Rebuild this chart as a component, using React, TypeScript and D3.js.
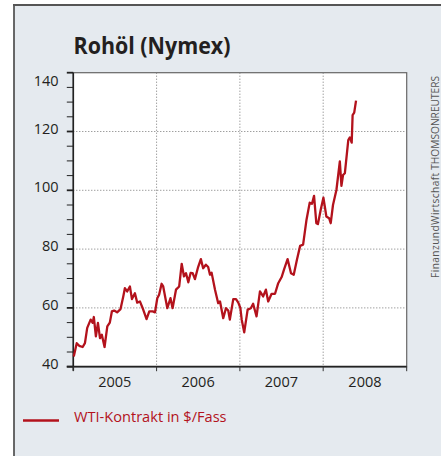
import React, { useEffect, useRef } from "react";
import { select, scaleTime, scaleLinear, line, range, timeParse, curveLinear } from "d3";

// WTI, Wochenwerte
const dates = [
  "2005-01-03", "2005-01-16", "2005-01-27", "2005-02-11", "2005-02-21", "2005-03-03", "2005-03-18", "2005-03-27",
  "2005-04-01", "2005-04-10", "2005-04-19", "2005-04-28", "2005-05-06", "2005-05-18", "2005-05-30", "2005-06-10",
  "2005-06-19", "2005-06-29", "2005-07-12", "2005-07-27", "2005-08-08", "2005-08-15", "2005-08-25", "2005-09-06",
  "2005-09-15", "2005-09-28", "2005-10-08", "2005-10-20", "2005-11-01", "2005-11-18", "2005-11-30", "2005-12-15",
  "2005-12-25", "2006-01-04", "2006-01-12", "2006-01-23", "2006-01-30", "2006-02-17", "2006-03-03", "2006-03-12",
  "2006-03-27", "2006-04-10", "2006-04-21", "2006-05-01", "2006-05-10", "2006-05-20", "2006-05-30", "2006-06-08",
  "2006-06-18", "2006-07-02", "2006-07-14", "2006-07-24", "2006-08-05", "2006-08-15", "2006-08-23", "2006-08-30",
  "2006-09-14", "2006-09-28", "2006-10-06", "2006-10-20", "2006-11-01", "2006-11-11", "2006-11-18", "2006-12-03",
  "2006-12-15", "2006-12-25", "2007-01-03", "2007-01-09", "2007-01-20", "2007-02-04", "2007-02-18", "2007-02-28",
  "2007-03-15", "2007-03-30", "2007-04-13", "2007-04-25", "2007-05-05", "2007-05-20", "2007-06-04", "2007-06-18",
  "2007-07-03", "2007-07-14", "2007-07-29", "2007-08-13", "2007-08-25", "2007-09-08", "2007-09-22", "2007-10-05",
  "2007-10-20", "2007-11-03", "2007-11-13", "2007-11-22", "2007-12-02", "2007-12-09", "2007-12-21", "2008-01-02",
  "2008-01-15", "2008-01-27", "2008-02-03", "2008-02-13", "2008-02-28", "2008-03-14", "2008-03-21", "2008-03-28",
  "2008-04-05", "2008-04-20", "2008-04-27", "2008-05-05", "2008-05-09", "2008-05-16", "2008-05-24",
];
const prices = [
  43.5, 48, 47.1, 46.7, 48, 53.2, 56, 54.9,
  56.9, 50.3, 54.9, 49.7, 50.9, 46.7, 53.7, 55,
  58.8, 59.1, 58.5, 59.6, 63.9, 66.7, 65.6, 67.3,
  63, 65, 61.8, 62.2, 59.9, 56.2, 58.8, 58.8,
  58.5, 63.3, 64.5, 68.2, 67.3, 59.9, 63.3, 59.9,
  66.2, 67.3, 75, 70.7, 71.8, 68.7, 71.9, 71.8,
  69.8, 73.9, 76.6, 73.5, 74.7, 73.9, 71.3, 72,
  66.2, 61.6, 62.2, 56.5, 59.9, 59.1, 56, 63,
  63, 61.8, 60, 56, 51.7, 59.4, 59.9, 61.4,
  57.1, 65.6, 63.9, 66.2, 62.2, 64.8, 64.8, 68.4,
  70.5, 73.2, 76.6, 71.8, 71.3, 76.4, 81.1, 81.5,
  90, 95.8, 95.4, 98.1, 88.8, 88.5, 93.3, 97.5,
  91.1, 90.5, 88.8, 95, 100.1, 109.8, 101.5, 105.2,
  105.8, 117.1, 118, 116.2, 125.6, 126.4, 130.5,
];
const yLabels = [40, 60, 80, 100, 120, 140];
const gridValues = [60, 80, 100, 120];
const years = [2005, 2006, 2007, 2008];

const title = "Rohöl (Nymex)";
const legendText = "WTI-Kontrakt in $/Fass";
const sourceA = "FinanzundWirtschaft";
const sourceB = " THOMSONREUTERS";

const W = 441;
const H = 456;
const plot = { left: 73.3, top: 72.7, right: 406.7, bottom: 366.7 };
const RED = "#b3121c";
const FONT = "'Open Sans', 'Noto Sans', sans-serif";

const App = () => {
  const svgRef = useRef<SVGSVGElement>(null);

  useEffect(() => {
    const svg = select(svgRef.current);
    svg.selectAll("*").remove();
    const parse = timeParse("%Y-%m-%d");
    const data = dates.map((d, i) => ({ date: parse(d) as Date, value: prices[i] }));

    const xScale = scaleTime()
      .domain([new Date(2005, 0, 1), new Date(2009, 0, 1)])
      .range([plot.left, plot.right]);
    const yScale = scaleLinear().domain([40, 140]).range([plot.bottom, plot.top]);

    // Hintergrund-Kasten
    svg.append("rect").attr("x", 14).attr("y", 5).attr("width", W).attr("height", H)
      .attr("fill", "#e5eaef");
    svg.append("line").attr("x1", 14).attr("x2", 14).attr("y1", 4).attr("y2", H)
      .attr("stroke", "#444").attr("stroke-width", 1.6);
    svg.append("line").attr("x1", 13).attr("x2", W).attr("y1", 5).attr("y2", 5)
      .attr("stroke", "#555").attr("stroke-width", 2);

    svg.append("text").attr("x", 73.5).attr("y", 54).text(title)
      .attr("font-family", FONT).attr("font-weight", 700).attr("font-size", 23.5)
      .attr("textLength", 157).attr("lengthAdjust", "spacingAndGlyphs")
      .attr("fill", "#231f20");

    svg.append("rect")
      .attr("x", plot.left).attr("y", plot.top)
      .attr("width", plot.right - plot.left).attr("height", plot.bottom - plot.top)
      .attr("fill", "#fff").attr("stroke", "#666").attr("stroke-width", 1.2);

    // Gitter
    svg.selectAll(".hgrid").data(gridValues).join("line").attr("class", "hgrid")
      .attr("x1", plot.left).attr("x2", plot.right)
      .attr("y1", d => yScale(d)).attr("y2", d => yScale(d))
      .attr("stroke", "#777").attr("stroke-width", 1).attr("stroke-dasharray", "1,2");
    svg.selectAll(".vgrid").data(years.slice(1)).join("line").attr("class", "vgrid")
      .attr("x1", d => xScale(new Date(d, 0, 1))).attr("x2", d => xScale(new Date(d, 0, 1)))
      .attr("y1", plot.top).attr("y2", plot.bottom)
      .attr("stroke", "#777").attr("stroke-width", 1).attr("stroke-dasharray", "1,2");

    // y-Achse
    svg.selectAll(".ytick").data(range(40, 141, 5)).join("line").attr("class", "ytick")
      .attr("x1", plot.left - 6.5).attr("x2", plot.left)
      .attr("y1", d => yScale(d)).attr("y2", d => yScale(d))
      .attr("stroke", "#222").attr("stroke-width", d => (d % 20 === 0 ? 1.8 : 1));
    svg.selectAll(".ylabel").data(yLabels).join("text").attr("class", "ylabel")
      .attr("x", 58.5)
      .attr("y", d => yScale(d) + (d === 140 ? 13 : 2))
      .attr("text-anchor", "end").attr("font-family", FONT).attr("font-size", 14.5)
      .attr("fill", "#231f20").text(d => d);
    svg.append("line").attr("x1", plot.left).attr("x2", plot.left)
      .attr("y1", plot.top).attr("y2", plot.bottom + 4)
      .attr("stroke", "#222").attr("stroke-width", 1.6);

    // x-Achse
    svg.append("line").attr("x1", plot.left - 6.5).attr("x2", plot.right)
      .attr("y1", plot.bottom).attr("y2", plot.bottom)
      .attr("stroke", "#222").attr("stroke-width", 1.8);
    svg.selectAll(".xtick").data([...years, 2009]).join("line").attr("class", "xtick")
      .attr("x1", d => xScale(new Date(d, 0, 1))).attr("x2", d => xScale(new Date(d, 0, 1)))
      .attr("y1", plot.bottom).attr("y2", plot.bottom + 4.5)
      .attr("stroke", "#333").attr("stroke-width", 1);
    svg.selectAll(".xlabel").data(years).join("text").attr("class", "xlabel")
      .attr("x", d => xScale(new Date(d, 6, 2)))
      .attr("y", 386.5)
      .attr("text-anchor", "middle").attr("font-family", FONT).attr("font-size", 14.5)
      .attr("fill", "#231f20").text(d => d);

    // Kurs
    const path = line<{ date: Date; value: number }>()
      .x(d => xScale(d.date))
      .y(d => yScale(d.value))
      .curve(curveLinear);
    svg.append("path").datum(data).attr("d", path)
      .attr("fill", "none").attr("stroke", RED).attr("stroke-width", 2.3)
      .attr("stroke-linejoin", "round");

    // Legende
    svg.append("line").attr("x1", 23).attr("x2", 59).attr("y1", 420.5).attr("y2", 420.5)
      .attr("stroke", RED).attr("stroke-width", 2.4);
    svg.append("text").attr("x", 74).attr("y", 421.5).text(legendText)
      .attr("font-family", FONT).attr("font-size", 14.6).attr("fill", RED);

    // Quelle
    const src = svg.append("text")
      .attr("transform", "translate(438.5,278) rotate(-90)")
      .attr("font-family", FONT).attr("font-size", 10.2).attr("fill", "#555");
    src.append("tspan").attr("letter-spacing", 0.4).text(sourceA);
    src.append("tspan").text(sourceB);
  }, []);

  return (
    <svg
      ref={svgRef}
      width={W}
      height={H}
      style={{ position: "absolute", left: 0, top: 0, background: "#fff" }}
    />
  );
};

export default App;
